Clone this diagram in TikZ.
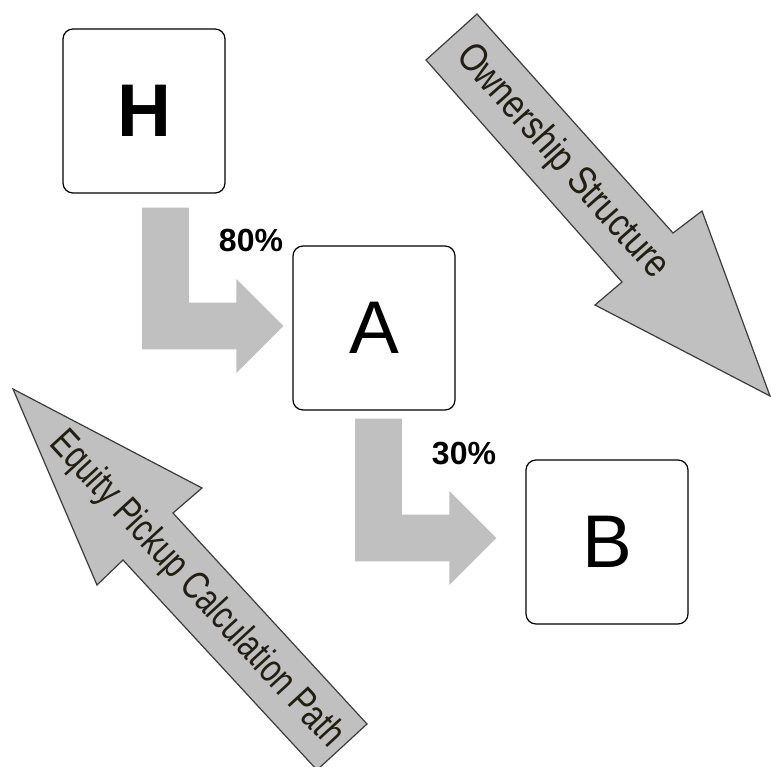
\documentclass[tikz,border=0pt]{standalone}
\usepackage{fontspec}
\setmainfont{Liberation Sans}
\usetikzlibrary{calc,positioning}
\definecolor{blockgray}{HTML}{C0C0C0}
\definecolor{rimgray}{HTML}{3C3C3C}
\definecolor{inkbrown}{HTML}{231E12}

\newcommand{\elbow}[2]{%
  \fill[blockgray] let \p1=#1, \p2=#2 in
    (\x1-17.6pt,\y1) -- (\x1+17.6pt,\y1) -- (\x1+17.6pt,\y2+17.6pt)
    -- (\x2-35.2pt,\y2+17.6pt) -- (\x2-35.2pt,\y2+35.2pt) -- (\x2,\y2)
    -- (\x2-35.2pt,\y2-35.2pt) -- (\x2-35.2pt,\y2-17.6pt)
    -- (\x1-17.6pt,\y2-17.6pt) -- cycle;}

\begin{document}
\begin{tikzpicture}[x=0.75pt, y=-0.75pt]
    \tikzset{entity/.style = {draw, line width=0.9pt, rounded corners=7.5pt,
        fill=white, minimum width=121.5pt, minimum height=123pt,
        font=\fontsize{56}{56}\selectfont},
      share/.style = {font=\bfseries\fontsize{24}{24}\selectfont},
      bigarrow/.style = {fill=blockgray, draw=rimgray, line width=0.9pt, line join=miter},
      arrowtext/.style = {text=inkbrown, font=\fontsize{30}{30}\selectfont}}
    \clip (0,0) rectangle (771,767);
    \fill[white] (0,0) rectangle (771,767);
    \draw[bigarrow] (477,14) -- (673,233) -- (702,211) -- (770,396)
      -- (595,305) -- (622,282) -- (426,60) -- cycle;
    \draw[bigarrow] (13,389) -- (202,488) -- (173,513) -- (367,724)
      -- (317,770) -- (123,560) -- (97,585) -- cycle;
    \node[arrowtext, rotate=-48.4] (own) at (562,162) {\scalebox{0.82}[1]{Ownership Structure}};
    \node[arrowtext, rotate=-47.4] (eqp) at (196,590) {\scalebox{0.76}[1]{Equity Pickup Calculation Path}};
    \node[entity, font=\bfseries\fontsize{56}{56}\selectfont] (H) at (144,111) {H};
    \node[entity] (A) at (374,328) {A};
    \node[entity] (B) at (607,542) {B};
    \elbow{($(H.south)+(21.5,14)$)}{($(A.west)+(-9,-2)$)}
    \elbow{($(A.south)+(4.5,8)$)}{($(B.west)+(-29,-4)$)}
    \node[share] (hA) at (251,240) {80\%};
    \node[share] (aB) at (464,454) {30\%};
\end{tikzpicture}
\end{document}
